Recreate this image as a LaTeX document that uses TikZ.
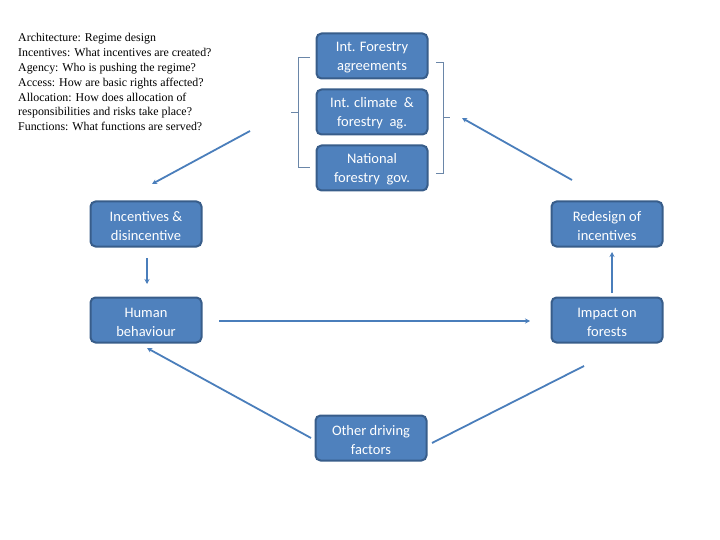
\documentclass[tikz,border=0pt]{standalone}
\usepackage{fontspec}
\setmainfont{Liberation Serif}
\newfontfamily\boxfont{Carlito}
\usetikzlibrary{arrows.meta}
\definecolor{boxfill}{HTML}{4F81BD}
\definecolor{boxline}{HTML}{385D8A}
\definecolor{arrcol}{HTML}{4A7EBB}
\definecolor{brcol}{HTML}{6A86A8}
\tikzset{
  blockbox/.style={draw=boxline, line width=2pt, fill=boxfill, rounded corners=5pt,
    minimum width=111pt, minimum height=45pt, align=center, text=white,
    font=\boxfont\fontsize{14.5}{19}\selectfont, inner sep=2pt},
  arr/.style={draw=arrcol, line width=1.8pt, -{Stealth[length=5pt,width=5pt]}},
  plainline/.style={draw=arrcol, line width=1.8pt},
  bracketline/.style={draw=brcol, line width=0.8pt},
}
\begin{document}
\begin{tikzpicture}[x=1pt,y=-1pt]
\useasboundingbox (0,0) rectangle (720,540);
\node[anchor=north west, align=left, inner sep=0pt, font=\fontsize{11.9}{14.8}\selectfont] (notes) at (18,33.5)
 {Architecture: Regime design\\
  Incentives: What incentives are created?\\
  Agency: Who is pushing the regime?\\
  Access: How are basic rights affected?\\
  Allocation: How does allocation of\\
  responsibilities and risks take place?\\
  Functions: What functions are served?};

\node[blockbox] (ifa) at (372,56) {\strut Int. Forestry\\agreements};
\node[blockbox] (icf) at (372,112) {\strut Int. climate\ \ \&\\forestry\ \ ag.};
\node[blockbox] (nfg) at (372,168) {\strut National\\forestry\ \ gov.};
\node[blockbox] (inc) at (146,224) {\strut Incentives \&\\disincentive};
\node[blockbox] (red) at (607,224) {\strut Redesign of\\incentives};
\node[blockbox] (hum) at (146,320) {\strut Human\\behaviour};
\node[blockbox] (imp) at (607,320) {\strut Impact on\\forests};
\node[blockbox] (oth) at (371,438) {\strut Other driving\\factors};

% brackets
\draw[bracketline] (310,57) -- (298,57) -- (298,167) -- (310,167);
\draw[bracketline] (298,112) -- (291,112);
\draw[bracketline] (436,62) -- (443,62) -- (443,173) -- (436,173);
\draw[bracketline] (443,117) -- (450,117);

% connector end points
\coordinate (lbstart) at (250,131);
\coordinate (lbend) at (152,184);
\coordinate (rbend) at (462,118);
\coordinate (redtop) at (572,180);
\coordinate (incbot) at (147,258);
\coordinate (humtop) at (147,284);
\coordinate (humr) at (219,321);
\coordinate (impl) at (530,321);
\coordinate (impbot) at (612,293);
\coordinate (redbot) at (612,252);
\coordinate (othl) at (311,438);
\coordinate (humbr) at (147,348);
\coordinate (othr) at (432,443);
\coordinate (impbl) at (584,366);

\draw[arr] (lbstart) -- (lbend);
\draw[arr] (redtop) -- (rbend);
\draw[arr] (incbot) -- (humtop);
\draw[arr] (humr) -- (impl);
\draw[arr] (impbot) -- (redbot);
\draw[arr] (othl) -- (humbr);
\draw[plainline] (othr) -- (impbl);
\end{tikzpicture}
\end{document}
